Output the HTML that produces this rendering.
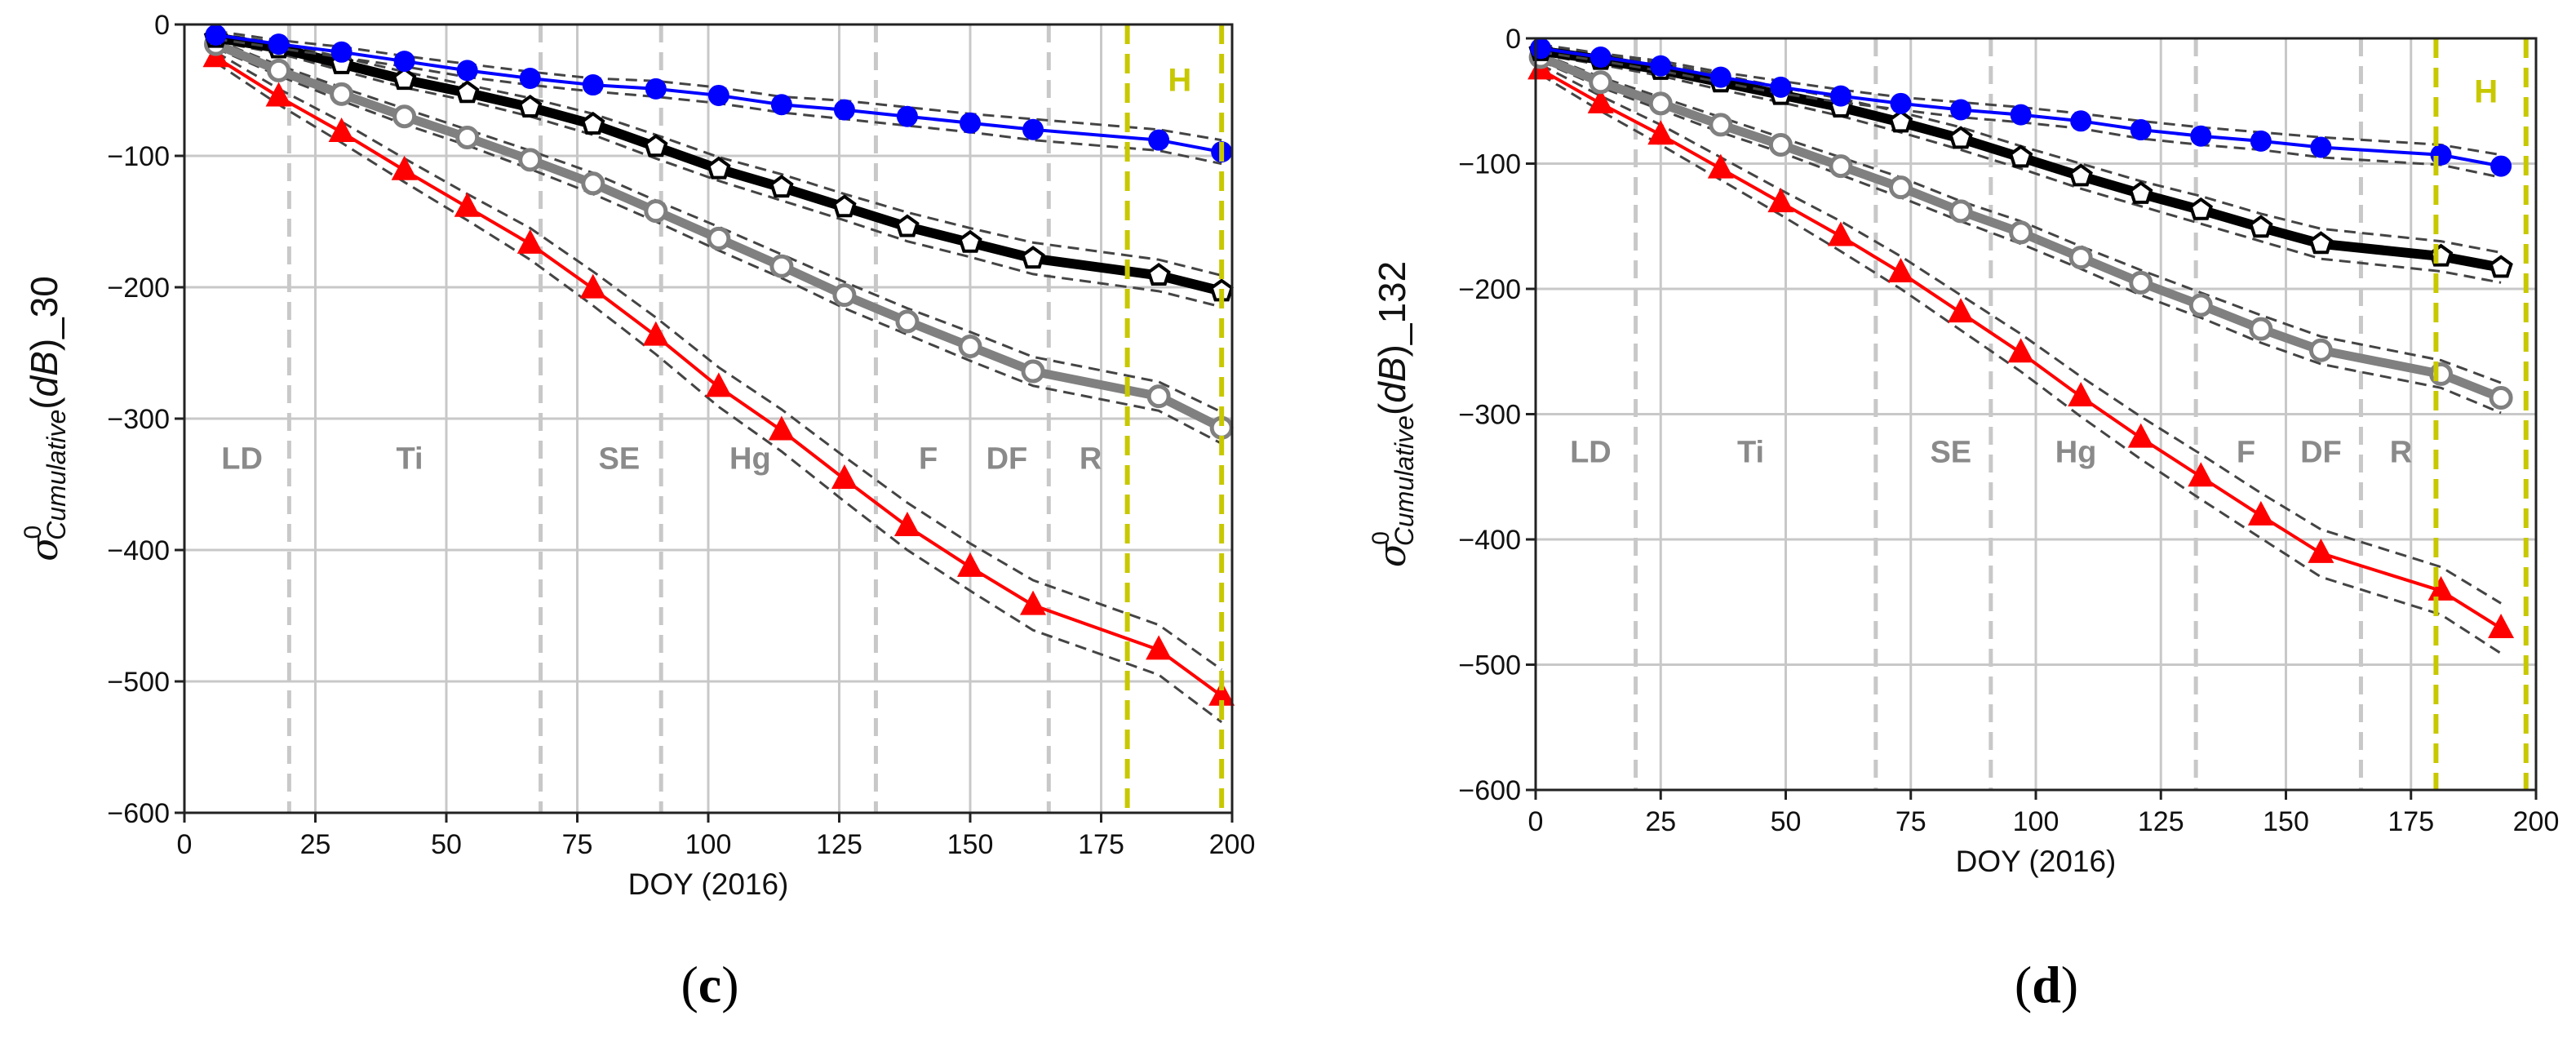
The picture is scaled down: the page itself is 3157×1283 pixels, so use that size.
<!DOCTYPE html>
<html><head><meta charset="utf-8">
<style>
body{margin:0;background:#fff;}
svg{display:block;font-family:"Liberation Sans","DejaVu Sans",sans-serif;}
</style></head>
<body>
<svg id="fig" width="3157" height="1283" viewBox="0 0 3157 1283" xmlns="http://www.w3.org/2000/svg"></svg>
<script>
// ---- Panel (c) data ----
const daysC = [6,18,30,42,54,66,78,90,102,114,126,138,150,162,186,198];
const blueC = [-8,-15,-21,-28,-35,-41,-46,-49,-54,-61,-65,-70,-75,-80,-88,-97];
const blackC = [-10,-18,-30,-42,-52,-63,-76,-93,-110,-124,-139,-154,-166,-178,-191,-203];
const grayC = [-15,-35,-53,-70,-86,-103,-121,-142,-163,-184,-206,-226,-245,-264,-283,-307];
const redC = [-25,-55,-82,-111,-139,-167,-201,-237,-276,-309,-346,-382,-413,-442,-476,-511];
// ---- Panel (d) data ----
const daysD = [1,13,25,37,49,61,73,85,97,109,121,133,145,157,181,193];
const blueD = [-8,-15,-22,-31,-39,-46,-52,-57,-61,-66,-73,-78,-82,-87,-93,-102];
const blackD = [-10,-17,-25,-35,-45,-55,-67,-80,-95,-110,-124,-137,-151,-164,-174,-183];
const grayD = [-15,-35,-52,-69,-85,-102,-119,-138,-155,-175,-195,-213,-232,-249,-268,-287];
const redD = [-25,-52,-77,-104,-131,-158,-187,-219,-251,-286,-319,-350,-381,-411,-441,-471];
// envelope half-widths
const sdBlue = [3,3,4,4,5,5,5,6,6,6,7,7,7,8,8,9];
const sdBlack = [3,4,5,6,6,7,8,9,9,10,10,11,11,12,12,12];
const sdGray = [3,4,5,6,6,7,8,8,9,9,10,10,11,11,11,12];
const sdRed = [4,6,8,9,10,12,13,14,15,16,17,18,18,19,19,20];
const xTicks = [0,25,50,75,100,125,150,175,200];
const yTicks = [0,-100,-200,-300,-400,-500,-600];
const phaseLines = [20,68,91,132,165];
const harvestLines = [180,198];
const phaseLabels = ["LD","Ti","SE","Hg","F","DF","R"];
const phaseLabelX = [11,43,83,108,142,157,173];

const NS="http://www.w3.org/2000/svg";
const fig=document.getElementById('fig');
function mk(tag,attrs,parent){const e=document.createElementNS(NS,tag);for(const k in attrs)e.setAttribute(k,attrs[k]);(parent||fig).appendChild(e);return e;}

function panel(P){
  const g=mk('g',{});
  
  
  const X=v=>P.x0+(v/200)*(P.x1-P.x0);
  const Y=v=>P.y0+(v/-600)*(P.y1-P.y0);
  xTicks.forEach(t=>{const l=mk('line',{x1:X(t),x2:X(t),y1:P.y0,y2:P.y1,stroke:'#c8c8c8','stroke-width':3},g);
    });
  yTicks.forEach(t=>{const l=mk('line',{x1:P.x0,x2:P.x1,y1:Y(t),y2:Y(t),stroke:'#c8c8c8','stroke-width':3},g);
    });
  phaseLines.forEach(t=>{const l=mk('line',{x1:X(t),x2:X(t),y1:P.y0,y2:P.y1,stroke:'#c8c8c8','stroke-width':5,'stroke-dasharray':'22,12'},g);
    });
  phaseLabels.forEach((s,i)=>{const t=mk('text',{x:X(phaseLabelX[i]),y:Y(-330)+13,'font-size':38,'font-weight':'bold',fill:'#8a8a8a','text-anchor':'middle'},g);t.textContent=s;
    });
  const series=[
    {v:P.red,sd:sdRed,c:'#ff0000',w:4,m:'tri'},
    {v:P.gray,sd:sdGray,c:'#808080',w:11,m:'ocirc'},
    {v:P.black,sd:sdBlack,c:'#000000',w:12,m:'pent'},
    {v:P.blue,sd:sdBlue,c:'#0000ff',w:4,m:'circ'}];
  series.forEach((s,si)=>{
    const pts=P.days.map((d,i)=>X(d)+','+Y(s.v[i])).join(' ');
    const up=P.days.map((d,i)=>X(d)+','+Y(s.v[i]+s.sd[i])).join(' ');
    const lo=P.days.map((d,i)=>X(d)+','+Y(s.v[i]-s.sd[i])).join(' ');
    const e1=mk('polyline',{points:up,fill:'none',stroke:'#444','stroke-width':3,'stroke-dasharray':'14,8'},g);
    
    const e2=mk('polyline',{points:lo,fill:'none',stroke:'#444','stroke-width':3,'stroke-dasharray':'14,8'},g);
    
    const ln=mk('polyline',{points:pts,fill:'none',stroke:s.c,'stroke-width':s.w,'stroke-linejoin':'round'},g);
    
    P.days.forEach((d,i)=>{
      const cx=X(d),cy=Y(s.v[i]);let m;
      if(s.m==='tri') m=mk('polygon',{points:`${cx},${cy-18} ${cx-16},${cy+12} ${cx+16},${cy+12}`,fill:'#ff0000'},g);
      else if(s.m==='circ') m=mk('circle',{cx:cx,cy:cy,r:13,fill:'#0000ff'},g);
      else if(s.m==='ocirc') m=mk('circle',{cx:cx,cy:cy,r:12,fill:'#fff',stroke:'#808080','stroke-width':5},g);
      else {let p=[];for(let k=0;k<5;k++){const a=-Math.PI/2+k*2*Math.PI/5;p.push((cx+13*Math.cos(a))+','+(cy+13*Math.sin(a)));}
        m=mk('polygon',{points:p.join(' '),fill:'#fff',stroke:'#000','stroke-width':4},g);}
      
    });
  });
  harvestLines.forEach(t=>{const l=mk('line',{x1:X(t),x2:X(t),y1:P.y0,y2:P.y1,stroke:'#c8c800','stroke-width':6,'stroke-dasharray':'24,12'},g);
    });
  const h=mk('text',{x:X(190),y:Y(-42)+14,'font-size':40,'font-weight':'bold',fill:'#c8c800','text-anchor':'middle'},g);h.textContent='H';
  
  const fr=mk('rect',{x:P.x0,y:P.y0,width:P.x1-P.x0,height:P.y1-P.y0,fill:'none',stroke:'#222','stroke-width':3},g);
  
  xTicks.forEach(t=>{mk('line',{x1:X(t),x2:X(t),y1:P.y1,y2:P.y1+12,stroke:'#222','stroke-width':3},g);
    const tx=mk('text',{x:X(t),y:P.y1+50,'font-size':34,'text-anchor':'middle',fill:'#111'},g);tx.textContent=t;
    });
  yTicks.forEach(t=>{mk('line',{x1:P.x0-12,x2:P.x0,y1:Y(t),y2:Y(t),stroke:'#222','stroke-width':3},g);
    const tx=mk('text',{x:P.x0-18,y:Y(t)+12,'font-size':34,'text-anchor':'end',fill:'#111'},g);tx.textContent=(t<0?'\u2212'+(-t):t);
    });
  const xt=mk('text',{x:(P.x0+P.x1)/2,y:P.y1+100,'font-size':37,'text-anchor':'middle',fill:'#111'},g);xt.textContent='DOY (2016)';
  
  const yt=mk('text',{transform:`translate(${P.ylx},${(P.y0+P.y1)/2}) rotate(-90)`,'font-size':46,'text-anchor':'middle',fill:'#111'},g);
  yt.innerHTML=`<tspan font-family="DejaVu Serif,serif" font-style="italic">σ</tspan><tspan font-size="30" dy="-20" dx="-4">0</tspan><tspan font-size="32" font-style="italic" dy="30" dx="-18">Cumulative</tspan><tspan dy="-10">(</tspan><tspan font-style="italic">dB</tspan><tspan>)_${P.tag}</tspan>`;
  
  const cap=mk('text',{x:P.capX,y:1228,'font-size':64,'font-family':'Liberation Serif,serif','text-anchor':'middle',fill:'#000'},g);
  cap.innerHTML=`(<tspan font-weight="bold">${P.letter}</tspan>)`;
  
}
panel({name:'panel-c',x0:226,x1:1510,y0:30,y1:996,days:daysC,blue:blueC,black:blackC,gray:grayC,red:redC,tag:'30',letter:'c',ylx:70,capX:870});
panel({name:'panel-d',x0:1882,x1:3108,y0:47,y1:968,days:daysD,blue:blueD,black:blackD,gray:grayD,red:redD,tag:'132',letter:'d',ylx:1722,capX:2508});
</script>
</body></html>
